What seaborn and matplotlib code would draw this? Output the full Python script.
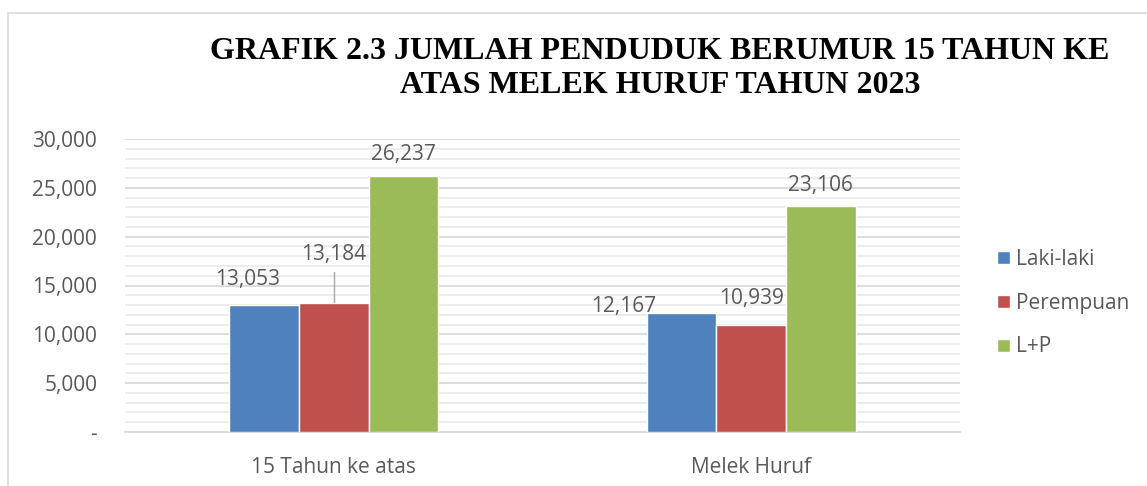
import pandas as pd
import matplotlib.pyplot as plt
import matplotlib.ticker as mticker
from matplotlib.patches import Rectangle
import seaborn as sns

categories = ['15 Tahun ke atas', 'Melek Huruf']
laki = [13053, 12167]
perempuan = [13184, 10939]
total = [26237, 23106]
series = ['Laki-laki', 'Perempuan', 'L+P']
colors = ['#4F81BD', '#C0504D', '#9BBB59']

df = pd.DataFrame({
    'Kategori': categories * 3,
    'Jenis': [s for s in series for _ in categories],
    'Jumlah': laki + perempuan + total,
})

sns.set_style('white')
plt.rcParams['font.family'] = ['Open Sans', 'DejaVu Sans']
txt_color = '#595959'
fs = 15

fig = plt.figure(figsize=(11.47, 4.86), dpi=100)
ax = fig.add_axes([125 / 1147, 1 - 432 / 486, 835 / 1147, (432 - 139) / 486])

# chart frame like excel
fig.patches.append(Rectangle((8 / 1147, -0.1), 1.2, 1 - 13 / 486 + 0.1, transform=fig.transFigure,
                             fill=False, edgecolor='#D9D9D9', lw=1.2))

sns.barplot(data=df, x='Kategori', y='Jumlah', hue='Jenis', palette=colors,
            width=0.5, gap=0, saturation=1, ax=ax, legend=True, zorder=3)

ax.set_xlim(-0.5, 1.5)
ax.set_ylim(0, 30000)
ax.yaxis.set_major_locator(mticker.MultipleLocator(5000))
ax.yaxis.set_minor_locator(mticker.MultipleLocator(1000))
ax.yaxis.set_major_formatter(mticker.FuncFormatter(lambda v, p: f'{v:,.0f}' if v else '-'))
ax.grid(axis='y', which='major', color='#D9D9D9', lw=1.3, zorder=0)
ax.grid(axis='y', which='minor', color='#EBEBEB', lw=1.3, zorder=0)
ax.set_axisbelow(True)
for s in ['top', 'right', 'left']:
    ax.spines[s].set_visible(False)
ax.spines['bottom'].set_color('#D9D9D9')
ax.spines['bottom'].set_linewidth(1.3)
ax.tick_params(axis='both', which='both', length=0, labelsize=fs, labelcolor=txt_color)
ax.tick_params(axis='y', pad=20)
ax.tick_params(axis='x', pad=18)
ax.set_xlabel('')
ax.set_ylabel('')

# data labels (offsets in points, as moved in the original)
offsets = {
    (0, 0): (-12, 18), (0, 1): (0, 35), (0, 2): (0, 15),
    (1, 0): (-42, 5), (1, 1): (0, 19), (1, 2): (0, 15),
}
for j, cont in enumerate(ax.containers):
    for i, bar in enumerate(cont):
        h = bar.get_height()
        x = bar.get_x() + bar.get_width() / 2
        dx, dy = offsets[(i, j)]
        ax.annotate(f'{h:,.0f}', (x, h), xytext=(dx, dy), textcoords='offset points',
                    ha='center', va='center', fontsize=fs, color=txt_color, zorder=5)
        if (i, j) == (0, 1):
            ax.plot([x, x], [h + 150, h + 3200], color='#A6A6A6', lw=1, zorder=4)

leg = ax.legend(loc='center left', bbox_to_anchor=(1.022, 0.44), frameon=False,
                fontsize=fs, handlelength=0.6, handleheight=0.6, handletextpad=0.3,
                labelspacing=1.1, labelcolor=txt_color)

fig.text(660 / 1147, 1 - 68.5 / 486,
         'GRAFIK 2.3 JUMLAH PENDUDUK BERUMUR 15 TAHUN KE\nATAS MELEK HURUF TAHUN 2023',
         ha='center', va='center', fontsize=23, fontweight='bold', color='black',
         family='Liberation Serif', linespacing=1.19)

fig.savefig('out.png', dpi=100)
